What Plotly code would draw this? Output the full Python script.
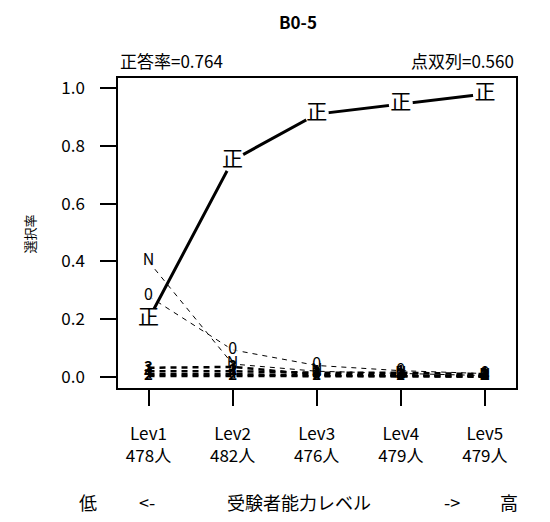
import plotly.graph_objects as go

levels = [1, 2, 3, 4, 5]
level_names = ["Lev1", "Lev2", "Lev3", "Lev4", "Lev5"]
level_counts = ["478人", "482人", "476人", "479人", "479人"]

correct_label = "正"
correct_rate = [0.20, 0.75, 0.91, 0.945, 0.98]

opt_N = [0.40, 0.045, 0.02, 0.012, 0.005]
opt_0 = [0.28, 0.094, 0.04, 0.022, 0.012]

minor_labels = ["1", "2", "3", "4"]
minor_values = [
    [0.020, 0.020, 0.015, 0.015, 0.010],
    [0.004, 0.004, 0.003, 0.003, 0.002],
    [0.032, 0.035, 0.008, 0.006, 0.004],
    [0.010, 0.010, 0.005, 0.002, 0.001],
]

title_text = "B0-5"
rate_text = "正答率=0.764"
pbis_text = "点双列=0.560"
y_title = "選択率"

FONT = "Noto Sans CJK JP"

fig = go.Figure()

for lab, vals in zip(minor_labels, minor_values):
    fig.add_trace(go.Scatter(
        x=levels, y=vals, mode="lines+text",
        text=[f"<b>{lab}</b>"] * len(vals), textposition="middle center",
        textfont=dict(family=FONT, size=15, color="black"),
        line=dict(color="black", width=2.5, dash="6px,5px"),
        showlegend=False, hoverinfo="skip", cliponaxis=False))

for lab, vals, gaps in [("N", opt_N, [13, 0, 0, 0, 0]), ("0", opt_0, [13, 13, 0, 0, 0])]:
    fig.add_trace(go.Scatter(
        x=levels, y=vals, mode="lines+markers+text",
        text=[lab] * len(vals), textposition="middle center",
        textfont=dict(family=FONT, size=16, color="black"),
        marker=dict(color="white", size=gaps, line=dict(width=0)),
        line=dict(color="black", width=1, dash="5px,5px"),
        showlegend=False, hoverinfo="skip", cliponaxis=False))

fig.add_trace(go.Scatter(
    x=levels, y=correct_rate, mode="lines+markers+text",
    text=[correct_label] * len(levels), textposition="middle center",
    textfont=dict(family=FONT, size=21, color="black"),
    marker=dict(color="white", size=24, line=dict(width=0)),
    line=dict(color="black", width=3),
    showlegend=False, hoverinfo="skip", cliponaxis=False))

ticktext = [f"{a}<br>{b}" for a, b in zip(level_names, level_counts)]

fig.update_layout(
    width=550, height=522,
    margin=dict(l=118, r=34, t=78, b=134),
    paper_bgcolor="white", plot_bgcolor="white",
    font=dict(family=FONT, color="black", size=16),
    xaxis=dict(range=[0.637, 5.37], tickvals=levels, ticktext=ticktext,
               showline=True, linecolor="black", linewidth=1.5, mirror=True,
               ticks="outside", ticklen=16, tickwidth=1.5, tickcolor="black",
               showgrid=False, zeroline=False, ticklabelstandoff=14,
               tickfont=dict(family=FONT, size=17)),
    yaxis=dict(range=[-0.038, 1.035], tickvals=[0, 0.2, 0.4, 0.6, 0.8, 1.0],
               tickformat=".1f",
               showline=True, linecolor="black", linewidth=1.5, mirror=True,
               ticks="outside", ticklen=16, tickwidth=1.5, tickcolor="black",
               showgrid=False, zeroline=False, ticklabelstandoff=12,
               tickfont=dict(family=FONT, size=17)),
)

ann = [
    dict(text=f"<b>{title_text}</b>", x=0.452, y=1.181, font=dict(size=17)),
    dict(text=rate_text, x=0.0, y=1.058, xanchor="left", font=dict(size=17)),
    dict(text=pbis_text, x=1.0, y=1.058, xanchor="right", font=dict(size=17)),
    dict(text=y_title, x=-0.221, y=0.495, textangle=-90, font=dict(size=13)),
    dict(text="低", x=(88 - 118) / 398, y=-0.369, font=dict(size=18)),
    dict(text="<-", x=(147 - 118) / 398, y=-0.369, font=dict(size=18)),
    dict(text="受験者能力レベル", x=(299 - 118) / 398, y=-0.369, font=dict(size=18)),
    dict(text="->", x=(452 - 118) / 398, y=-0.369, font=dict(size=18)),
    dict(text="高", x=(509 - 118) / 398, y=-0.369, font=dict(size=18)),
]
for a in ann:
    a.setdefault("xanchor", "center")
    fig.add_annotation(xref="paper", yref="paper", showarrow=False,
                       yanchor="middle", **a)

fig.write_html("out.html", config={"displayModeBar": False},
               post_script="document.body.style.margin='0';document.body.style.overflow='hidden';")
